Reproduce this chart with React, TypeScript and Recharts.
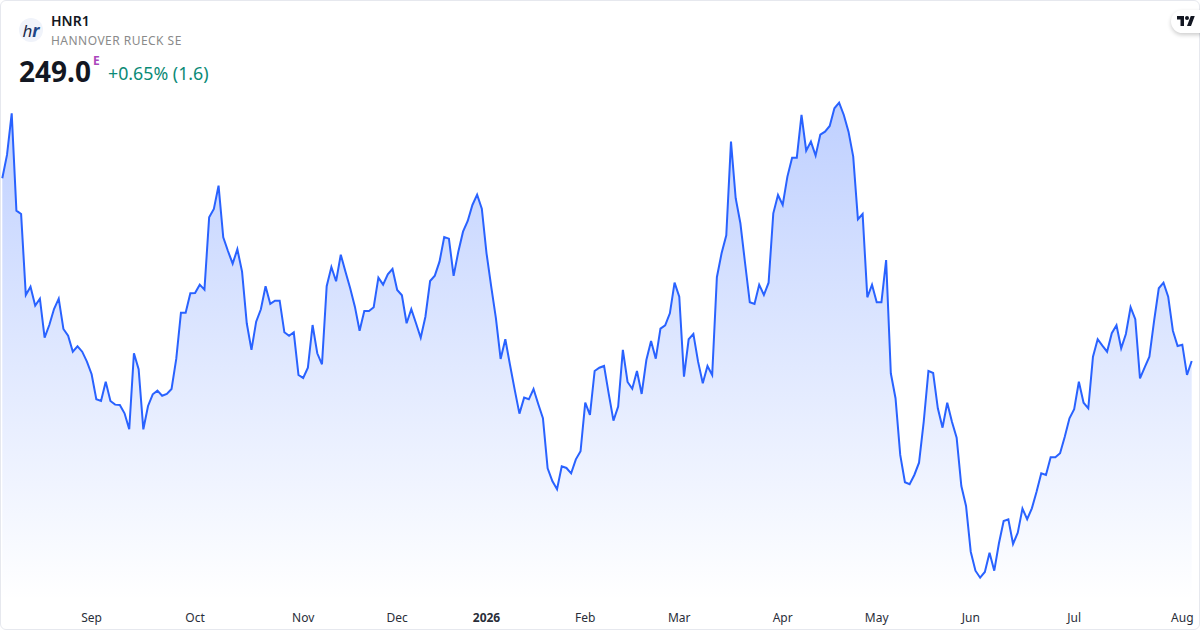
import React from "react";
import { AreaChart, Area, XAxis, YAxis } from "recharts";

const prices: number[] = [
  269.88, 272.55, 277.31, 266.18, 265.80, 256.54, 257.49, 255.32, 256.12, 251.66,
  253.11, 254.94, 256.12, 252.66, 251.89, 250.06, 250.68, 250.06, 248.92, 247.48,
  244.62, 244.43, 246.63, 244.43, 244.01, 243.97, 243.02, 241.19, 249.88, 248.05,
  241.19, 243.86, 245.19, 245.61, 245.03, 245.23, 245.80, 249.23, 254.52, 254.52,
  256.74, 256.77, 257.72, 257.15, 265.42, 266.37, 269.04, 263.14, 261.57, 260.12,
  261.77, 259.21, 253.31, 250.26, 253.49, 254.91, 257.54, 255.52, 255.89, 255.89,
  252.28, 251.89, 252.28, 247.40, 247.06, 248.23, 253.11, 249.88, 248.62, 257.54,
  259.74, 258.11, 261.15, 259.21, 257.31, 255.21, 252.46, 254.72, 254.72, 255.14,
  258.52, 257.72, 258.91, 259.52, 257.12, 256.51, 253.31, 254.91, 253.31, 251.66,
  254.06, 258.14, 258.75, 260.35, 263.17, 262.98, 258.72, 261.49, 263.78, 265.00,
  266.83, 268.01, 266.41, 261.31, 257.49, 253.88, 249.23, 251.48, 248.54, 245.69,
  242.98, 244.81, 244.62, 245.80, 244.09, 242.45, 236.74, 235.28, 234.34, 236.96,
  236.77, 236.16, 237.76, 238.68, 244.23, 242.83, 247.86, 248.23, 248.43, 245.23,
  242.18, 243.78, 250.26, 246.60, 245.83, 247.86, 245.23, 249.11, 251.29, 249.26,
  252.69, 253.08, 254.45, 257.95, 256.35, 247.21, 251.48, 252.09, 248.92, 246.45,
  248.43, 247.40, 258.57, 261.31, 263.37, 274.07, 267.60, 264.74, 260.17, 255.71,
  255.52, 257.72, 256.54, 257.95, 265.88, 267.97, 266.83, 270.07, 272.24, 272.24,
  277.12, 273.04, 274.07, 272.47, 274.87, 275.21, 275.86, 277.88, 278.52, 277.12,
  275.21, 272.35, 265.20, 265.80, 256.28, 257.72, 255.71, 255.71, 260.54, 247.59,
  244.74, 238.26, 235.14, 234.91, 235.97, 237.38, 242.06, 247.86, 247.63, 243.59,
  241.38, 244.23, 242.06, 240.23, 234.71, 232.43, 227.20, 225.03, 224.23, 224.88,
  227.09, 225.03, 228.16, 230.71, 230.91, 228.08, 229.37, 232.12, 230.91, 232.16,
  234.06, 236.16, 235.97, 237.99, 237.99, 238.45, 240.35, 242.45, 243.48, 246.63,
  244.23, 243.59, 249.49, 251.48, 250.75, 250.06, 252.17, 253.08, 250.45, 252.09,
  255.14, 253.77, 247.02, 248.28, 249.49, 253.57, 257.31, 257.95, 256.35, 252.46,
  250.71, 250.86, 247.40, 249.00,
];

const tickSessions: number[] = [19, 41, 64, 84, 103, 124, 144, 166, 186, 206, 228, 251];
const tickLabels: string[] = ["Sep", "Oct", "Nov", "Dec", "2026", "Feb", "Mar", "Apr", "May", "Jun", "Jul", "Aug"];
const boldLabels: string[] = ["2026"];

const symbol = "HNR1";
const companyName = "HANNOVER RUECK SE";
const lastPrice = "249.0";
const changeText = "+0.65% (1.6)";

const data = prices.map((price, session) => ({ session, price }));
const FONT = '"Noto Sans", "Open Sans", sans-serif';

function MonthTick(props: any) {
  const { x, y, payload } = props;
  const label = tickLabels[tickSessions.indexOf(payload.value)] ?? "";
  const bold = boldLabels.includes(label);
  return (
    <text x={x} y={y} dy={14} textAnchor="middle" fontFamily={FONT} fontSize={12}
      fontWeight={bold ? 700 : 400} fill="#2a2e39">
      {label}
    </text>
  );
}

const abs = (left: number, top: number): React.CSSProperties => ({
  position: "absolute", left, top, whiteSpace: "nowrap", fontFamily: FONT, lineHeight: 1,
});

export default function App() {
  return (
    <div style={{ position: "absolute", left: 0, top: 0, width: 1200, height: 630, background: "#fff", overflow: "hidden" }}>
      <AreaChart width={1200} height={630} data={data} margin={{ top: 60, right: 8.3, bottom: 0, left: 2.3 }}>
        <defs>
          <linearGradient id="areaFill" x1="0" y1="0" x2="0" y2="1">
            <stop offset="0%" stopColor="#2962FF" stopOpacity={0.3} />
            <stop offset="100%" stopColor="#2962FF" stopOpacity={0} />
          </linearGradient>
        </defs>
        <XAxis dataKey="session" type="number" domain={[0, 253]} ticks={tickSessions} interval={0}
          axisLine={false} tickLine={false} height={30} tick={<MonthTick />} />
        <YAxis hide type="number" domain={[221.68, 283.4]} />
        <Area type="linear" dataKey="price" stroke="#2962FF" strokeWidth={2} fill="url(#areaFill)" fillOpacity={1}
          isAnimationActive={false} dot={false} activeDot={false} />
      </AreaChart>

      <div style={{ position: "absolute", left: 0, top: 0, width: 1198, height: 628, border: "1px solid #e6e8ee", borderRadius: 6 }} />

      <div style={{ position: "absolute", left: 19, top: 18, width: 24, height: 24, borderRadius: 12, background: "#f0f3fa",
        display: "flex", alignItems: "center", justifyContent: "center", fontFamily: '"Noto Sans", sans-serif',
        fontStyle: "italic", fontSize: 17, color: "#1c2a4a" }}>
        h<span style={{ color: "#1f4788", fontWeight: 700 }}>r</span>
      </div>
      <div style={{ ...abs(51, 14), fontSize: 14, fontWeight: 600, color: "#131722" }}>{symbol}</div>
      <div style={{ ...abs(51, 35), fontSize: 12, color: "#8a8a8a", letterSpacing: 0.47 }}>{companyName}</div>
      <div style={{ ...abs(19, 57), fontSize: 28, fontWeight: 700, color: "#131722" }}>{lastPrice}</div>
      <div style={{ ...abs(93, 55), fontSize: 12, fontWeight: 700, color: "#ab47bc" }}>E</div>
      <div style={{ ...abs(108, 65), fontSize: 17.800, color: "#0b8a76" }}>{changeText}</div>

      <div style={{ position: "absolute", left: 1171, top: 10, width: 40, height: 23, borderRadius: 12, background: "#fff",
        boxShadow: "0 2px 4px rgba(0,0,0,0.2)" }} />
      <svg style={{ position: "absolute", left: 1177, top: 16 }} width={18} height={10} viewBox="0 0 36 20">
        <path d="M14 20H7V7H0V0h14v20zM28 20h-8L27.500 0h8L28 20z" fill="#131722" />
        <circle cx="20" cy="4" r="4" fill="#131722" />
      </svg>
    </div>
  );
}
